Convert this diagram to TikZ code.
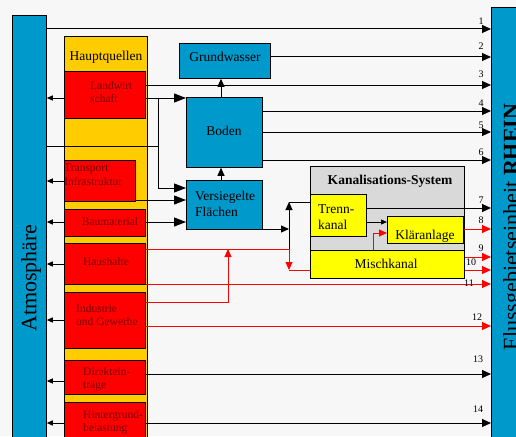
\documentclass[tikz,border=0pt]{standalone}
\usepackage{fontspec}
\setmainfont{Liberation Serif}
\usetikzlibrary{arrows.meta}
\definecolor{bluebg}{HTML}{0099CC}
\definecolor{colyel}{HTML}{FFCC00}
\definecolor{boxred}{HTML}{FF0000}
\definecolor{txtred}{HTML}{7A0000}
\definecolor{boxyel}{HTML}{FFFF00}
\definecolor{boxgrey}{HTML}{D9D9D9}
\definecolor{pagebg}{HTML}{F7F7F7}
\begin{document}
\begin{tikzpicture}[x=1pt,y=-1pt,
  box/.style={draw=black, line width=0.8pt, inner sep=0pt, anchor=north west},
  bluebox/.style={box, fill=bluebg},
  redbox/.style={box, fill=boxred},
  yelbox/.style={box, fill=boxyel},
  redtxt/.style={text=txtred, font=\fontsize{11.5}{13.5}\selectfont, inner sep=0pt, align=left},
  bigtxt/.style={font=\fontsize{13.5}{16}\selectfont, inner sep=0pt, align=left},
  numlbl/.style={font=\fontsize{10}{12}\selectfont, inner sep=0pt},
  ln/.style={line width=1pt, draw=black},
  rl/.style={line width=0.9pt, draw=red},
  tipR/.style={-{Triangle[length=9pt,width=8pt]}},
  tipB/.style={-{Triangle[length=12pt,width=9pt]}},
  tipM/.style={-{Triangle[length=8pt,width=7pt]}},
  tipS/.style={-{Triangle[length=6pt,width=5pt]}}]
\useasboundingbox (0,0) rectangle (516,436);
\clip (0,0) rectangle (516,436);
\fill[pagebg] (0,0) rectangle (516,436);

% big bars
\node[bluebox, minimum width=34, minimum height=440] (atm) at (12,15) {};
\node[bluebox, minimum width=40, minimum height=440] (rhein) at (491,7) {};
\node[rotate=90, inner sep=0pt, font=\fontsize{22}{26}\selectfont] (atmtxt) at (31,278) {Atmosphäre};
\node[rotate=90, inner sep=0pt, font=\fontsize{22}{26}\selectfont] (rheintxt) at (513,227) {Flussgebietseinheit \textbf{RHEIN}};

% Hauptquellen column
\node[box, fill=colyel, minimum width=83, minimum height=420] (hq) at (64,36) {};
\node[bigtxt] (hqtxt) at (106,57) {Hauptquellen};

% red source boxes
\node[redbox, minimum width=81, minimum height=47] (lw) at (64,71) {};
\node[redbox, minimum width=71, minimum height=41] (tr) at (64,160) {};
\node[redbox, minimum width=81, minimum height=27] (bm) at (64,209) {};
\node[redbox, minimum width=81, minimum height=41] (hh) at (64,243) {};
\node[redbox, minimum width=81, minimum height=56] (ig) at (64,292) {};
\node[redbox, minimum width=81, minimum height=34] (dk) at (64,360) {};
\node[redbox, minimum width=81, minimum height=40] (hg) at (64,402) {};

\node[redtxt, anchor=west] (lwtxt) at (90,92) {Landwirt\\schaft};
\node[redtxt, anchor=west] (trtxt) at (64,175) {Transport\\Infrastruktur};
\node[redtxt] (bmtxt) at (110,222) {Baumaterial};
\node[redtxt] (hhtxt) at (106,262) {Haushalte};
\node[redtxt, anchor=west] (igtxt) at (76,315) {Industrie\\und Gewerbe};
\node[redtxt, anchor=west] (dktxt) at (83,379) {Direktein-\\träge};
\node[redtxt, anchor=west] (hgtxt) at (83,422) {Hintergrund-\\belastung};

% blue boxes
\node[bluebox, minimum width=91, minimum height=35] (gw) at (179,43) {};
\node[bigtxt] (gwtxt) at (225,57) {Grundwasser};
\node[bluebox, minimum width=76, minimum height=70] (bo) at (186,97) {};
\node[bigtxt] (botxt) at (224,131) {Boden};
\node[bluebox, minimum width=76, minimum height=49] (vf) at (186,180) {};
\node[bigtxt, anchor=west] (vftxt) at (195,204) {Versiegelte\\Flächen};

% Kanalisation
\node[box, fill=boxgrey, minimum width=154, minimum height=84] (ks) at (310,166) {};
\node[bigtxt, font=\fontsize{13.5}{16}\selectfont\bfseries] (kstxt) at (390,181) {Kanalisations-System};
\node[yelbox, minimum width=56, minimum height=42] (tk) at (310,194) {};
\node[bigtxt, anchor=west] (tktxt) at (318,217) {Trenn-\\kanal};
\node[yelbox, minimum width=76, minimum height=27] (kl) at (387,216) {};
\node[bigtxt] (kltxt) at (425,236) {Kläranlage};
\node[yelbox, minimum width=154, minimum height=28] (mk) at (310,250) {};
\node[bigtxt] (mktxt) at (386,264) {Mischkanal};

% junction coordinates
\coordinate (j1) at (158,98);
\coordinate (j2) at (158,146);
\coordinate (j3) at (158,188);
\coordinate (k1) at (289,229);
\coordinate (k2) at (289,202);
\coordinate (k3) at (289,249);
\coordinate (k4) at (289,270);
\coordinate (r1) at (228,302);
\coordinate (r2) at (228,249);
\coordinate (m1) at (373,250);
\coordinate (m2) at (373,233);

% arrows to Rhein (black)
\draw[ln, tipR] (atm.east |- 0,29) -- (rhein.west |- 0,29);
\draw[ln, tipR] (gw.east |- 0,57) -- (rhein.west |- 0,57);
\draw[ln, tipR] (lw.east |- 0,85) -- (rhein.west |- 0,85);
\draw[ln, tipR] (bo.east |- 0,111) -- (rhein.west |- 0,111);
\draw[ln, tipR] (bo.east |- 0,132) -- (rhein.west |- 0,132);
\draw[ln, tipR] (bo.east |- 0,160) -- (rhein.west |- 0,160);
\draw[ln, tipR] (tk.east |- 0,208) -- (rhein.west |- 0,208);
\draw[ln, tipR] (dk.east |- 0,374) -- (rhein.west |- 0,374);
\draw[ln, tipR] (hg.east |- 0,423) -- (rhein.west |- 0,423);
% arrows to Rhein (red)
\draw[rl, tipR, red] (kl.east |- 0,229) -- (rhein.west |- 0,229);
\draw[rl, tipR, red] (mk.east |- 0,257) -- (rhein.west |- 0,257);
\draw[rl, tipR, red] (mk.east |- 0,270) -- (rhein.west |- 0,270);
\draw[rl, tipR, red] (hh.east |- 0,284) -- (rhein.west |- 0,284);
\draw[rl, tipR, red] (ig.east |- 0,326) -- (rhein.west |- 0,326);

% arrows to atmosphere
\draw[ln, tipS] (lw.west |- 0,98) -- (atm.east |- 0,98);
\draw[ln, tipS] (tr.west |- 0,181) -- (atm.east |- 0,181);
\draw[ln, tipS] (bm.west |- 0,222) -- (atm.east |- 0,222);
\draw[ln, tipS] (hh.west |- 0,264) -- (atm.east |- 0,264);
\draw[ln, tipS] (ig.west |- 0,320) -- (atm.east |- 0,320);
\draw[ln, tipS] (dk.west |- 0,381) -- (atm.east |- 0,381);
\draw[ln, tipS] (hg.west |- 0,423) -- (atm.east |- 0,423);

% flows into Boden / Versiegelte
\draw[ln, tipB] (lw.east |- 0,98) -- (bo.west |- 0,98);
\draw[ln] (atm.east |- 0,146) -- (j2);
\draw[ln, tipB] (j1) -- (j3) -- (vf.west |- 0,188);
\draw[ln, tipB] (tr.east |- 0,200) -- (vf.west |- 0,200);
\draw[ln, tipB] (bm.east |- 0,222) -- (vf.west |- 0,222);
\draw[ln, tipM] (bo.north -| 221,0) -- (gw.south -| 221,0);
\draw[ln, tipM] (vf.north -| 221,0) -- (bo.south -| 221,0);

% Versiegelte -> Kanalisation
\draw[ln, tipM] (vf.east |- 0,229) -- (k1);
\draw[ln, tipM] (k3) -- (k2);
\draw[ln] (k2) -- (tk.west |- 0,202);
\draw[rl, tipM, red] (hh.east |- 0,249) -- (k3) -- (k4);
\draw[rl] (k4) -- (mk.west |- 0,270);
\draw[rl, tipM, red] (ig.east |- 0,302) -- (r1) -- (r2);

% inside Kanalisation
\draw[ln, tipS] (tk.east |- 0,222) -- (kl.west |- 0,222);
\draw[rl, tipM, red] (m1) -- (m2) -- (kl.west |- 0,233);

% number labels
\foreach \n/\px/\py in {1/481/21, 2/481/46, 3/481/74, 4/481/103, 5/481/125, 6/481/152, 7/481/200, 8/481/220, 9/481/248, 10/471/262, 11/469/283, 12/477/317, 13/478/359, 14/478/409}
  \node[numlbl] at (\px,\py) {\n};
\end{tikzpicture}
\end{document}
